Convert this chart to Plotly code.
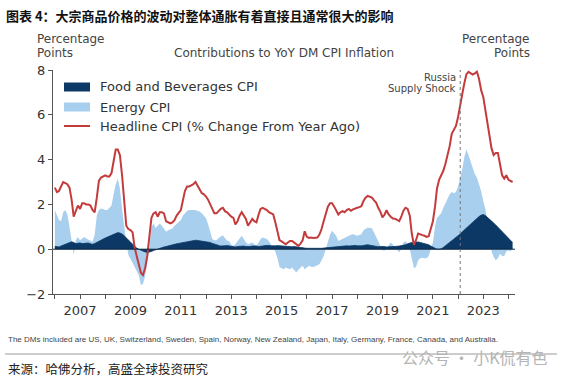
import pandas as pd
import plotly.graph_objects as go

# ---------------- data (monthly, Jan 2006 - Mar 2024) ----------------
start_month = "2006-01-01"

headline_cpi = [
    2.75, 2.55, 2.6, 2.8, 3.0, 2.95, 2.9, 2.75, 2.2, 1.45, 1.75, 1.95,   # 2006
    1.8, 2.05, 2.05, 2.0, 2.0, 1.95, 1.75, 1.65, 2.3, 3.05, 3.2, 3.25,   # 2007
    3.3, 3.25, 3.25, 3.4, 4.0, 4.45, 4.45, 4.2, 3.3, 2.1, 1.05, 0.9,     # 2008
    0.85, 0.75, 0.1, -0.3, -0.7, -1.05, -1.15, -0.85, -0.3, 0.7, 1.4, 1.6,  # 2009
    1.65, 1.45, 1.65, 1.65, 1.6, 1.25, 1.2, 1.15, 1.2, 1.3, 1.5, 1.6,    # 2010
    1.75, 2.2, 2.6, 2.8, 2.8, 2.85, 2.9, 3.0, 2.85, 2.7, 2.5, 2.45,      # 2011
    2.35, 2.2, 2.0, 1.85, 1.6, 1.6, 1.7, 1.8, 1.85, 1.7, 1.65, 1.55,     # 2012
    1.45, 1.4, 1.1, 1.25, 1.5, 1.65, 1.5, 1.35, 1.05, 1.2, 1.35, 1.25,   # 2013
    1.2, 1.55, 1.8, 1.85, 1.8, 1.75, 1.65, 1.6, 1.55, 1.2, 0.8, 0.4,     # 2014
    0.35, 0.3, 0.22, 0.3, 0.37, 0.37, 0.3, 0.22, 0.15, 0.25, 0.4, 0.8,   # 2015
    0.55, 0.5, 0.52, 0.5, 0.5, 0.52, 0.65, 0.9, 1.25, 1.6, 1.9, 2.05,    # 2016
    2.05, 1.9, 1.7, 1.55, 1.65, 1.7, 1.65, 1.75, 1.8, 1.72, 1.78, 1.8,   # 2017
    1.85, 1.88, 1.92, 2.15, 2.3, 2.38, 2.35, 2.3, 2.18, 2.08, 1.85, 1.68,  # 2018
    1.42, 1.55, 1.74, 1.55, 1.45, 1.37, 1.36, 1.3, 1.25, 1.45, 1.72, 1.85,  # 2019
    1.8, 1.5, 0.7, 0.2, 0.4, 0.7, 0.68, 0.63, 0.6, 0.55, 0.58, 0.9,      # 2020
    1.25, 1.9, 2.7, 3.1, 3.3, 3.5, 3.8, 4.2, 4.6, 5.15, 5.35, 5.5,       # 2021
    5.9, 6.5, 6.9, 7.4, 7.8, 7.92, 7.85, 7.8, 7.85, 7.92, 7.6, 7.1,      # 2022
    6.8, 6.2, 5.6, 5.0, 4.5, 4.2, 4.3, 4.3, 3.8, 3.3, 3.15, 3.3,         # 2023
    3.1, 3.05, 3.0,                                                      # 2024
]

energy_cpi = [
    1.75, 1.5, 1.3, 1.25, 1.65, 1.75, 1.55, 1.0, 0.3, -0.25, 0.4, 0.55,
    0.4, 0.5, 0.55, 0.48, 0.42, 0.38, 0.33, 0.65, 1.5, 1.75, 1.82, 1.8,
    1.75, 1.75, 1.85, 1.95, 2.45, 2.9, 3.15, 2.7, 1.8, 0.9, 0.3, -0.25,
    -0.45, -0.65, -0.8, -1.0, -1.15, -1.6, -1.55, -1.2, -0.5, 0.0, 1.0, 1.15,
    0.95, 1.05, 1.15, 1.05, 0.9, 0.78, 0.85, 0.88, 0.92, 1.05, 1.15, 1.2,
    1.3, 1.5, 1.62, 1.7, 1.75, 1.76, 1.77, 1.75, 1.7, 1.68, 1.6, 1.5,
    1.38, 1.1, 0.8, 0.45, 0.4, 0.4, 0.5, 0.55, 0.62, 0.5, 0.38, 0.35,
    0.2, 0.15, 0.22, 0.35, 0.45, 0.6, 0.45, 0.3, 0.22, 0.25, 0.3, 0.22,
    0.15, 0.3, 0.45, 0.52, 0.5, 0.45, 0.35, 0.2, 0.07, -0.1, -0.4, -0.8,
    -0.85, -0.89, -0.82, -0.86, -0.89, -0.82, -0.95, -1.04, -0.92, -0.82, -0.74, -0.89,
    -0.82, -0.74, -0.78, -0.79, -0.76, -0.72, -0.67, -0.5, -0.3, 0.0, 0.35, 0.65,
    0.82, 0.72, 0.6, 0.37, 0.42, 0.47, 0.52, 0.58, 0.62, 0.65, 0.67, 0.64,
    0.6, 0.63, 0.67, 0.85, 0.92, 0.97, 0.95, 0.94, 0.75, 0.55, 0.3, 0.1,
    -0.05, -0.07, 0.05, 0.2, 0.3, 0.2, 0.07, -0.05, -0.15, 0.0, 0.3, 0.35,
    0.22, 0.0, -0.45, -0.85, -0.8, -0.5, -0.4, -0.38, -0.4, -0.4, -0.3, 0.05,
    0.3, 1.0, 1.4, 1.5, 1.6, 1.85, 2.05, 2.3, 2.45, 2.55, 2.5, 2.55,
    2.8, 3.2, 3.55, 4.1, 4.45, 4.2, 3.9, 3.55, 3.35, 3.2, 2.9, 2.6,
    2.15, 1.8, 1.3, 0.5, -0.1, -0.35, -0.49, -0.4, -0.2, -0.3, -0.3, -0.1,
    -0.05, -0.1, 0.1,
]

food_cpi = [
    0.13, 0.12, 0.1, 0.14, 0.18, 0.22, 0.28, 0.3, 0.33, 0.3, 0.25, 0.27,
    0.28, 0.25, 0.25, 0.27, 0.28, 0.24, 0.22, 0.25, 0.3, 0.38, 0.43, 0.48,
    0.5, 0.54, 0.58, 0.62, 0.66, 0.7, 0.74, 0.72, 0.68, 0.6, 0.52, 0.42,
    0.32, 0.22, 0.12, 0.05, 0.0, -0.05, -0.08, -0.12, -0.15, -0.14, -0.1, -0.06,
    -0.02, 0.02, 0.05, 0.08, 0.1, 0.12, 0.15, 0.18, 0.2, 0.22, 0.24, 0.26,
    0.28, 0.3, 0.32, 0.34, 0.36, 0.38, 0.4, 0.4, 0.39, 0.38, 0.37, 0.36,
    0.35, 0.33, 0.3, 0.26, 0.22, 0.2, 0.17, 0.14, 0.13, 0.15, 0.16, 0.14,
    0.12, 0.1, 0.1, 0.12, 0.13, 0.15, 0.14, 0.12, 0.11, 0.12, 0.14, 0.15,
    0.14, 0.12, 0.12, 0.14, 0.16, 0.18, 0.17, 0.15, 0.14, 0.15, 0.16, 0.15,
    0.14, 0.13, 0.12, 0.1, 0.1, 0.11, 0.12, 0.1, 0.08, 0.07, 0.06, 0.05,
    0.04, 0.03, 0.03, 0.04, 0.04, 0.03, 0.03, 0.04, 0.05, 0.06, 0.08, 0.1,
    0.11, 0.12, 0.13, 0.12, 0.13, 0.14, 0.16, 0.15, 0.14, 0.16, 0.18, 0.17,
    0.15, 0.14, 0.15, 0.17, 0.19, 0.2, 0.18, 0.16, 0.14, 0.12, 0.11, 0.12,
    0.13, 0.12, 0.1, 0.1, 0.11, 0.12, 0.12, 0.13, 0.14, 0.15, 0.16, 0.2,
    0.24, 0.28, 0.3, 0.32, 0.33, 0.32, 0.3, 0.28, 0.26, 0.24, 0.2, 0.14,
    0.08, 0.03, 0.0, 0.0, 0.02, 0.08, 0.15, 0.22, 0.3, 0.38, 0.45, 0.53,
    0.6, 0.68, 0.77, 0.86, 0.95, 1.04, 1.12, 1.2, 1.3, 1.38, 1.46, 1.52,
    1.55, 1.5, 1.43, 1.35, 1.26, 1.17, 1.08, 0.98, 0.88, 0.78, 0.68, 0.58,
    0.48, 0.38, 0.3,
]

year_ticks = list(range(2006, 2025))
year_labels = [str(y) if y % 2 == 1 else "" for y in year_ticks]
y_ticks = [-2, 0, 2, 4, 6, 8]
y_labels = ["\u22122", "0", "2", "4", "6", "8"]
shock_date = "2022-02-01"

series_names = ["Food and Beverages CPI", "Energy CPI", "Headline CPI (% Change From Year Ago)"]

dates = pd.date_range(start_month, periods=len(headline_cpi), freq="MS")

# ---------------- style ----------------
FOOD = "#0b3864"
ENERGY = "#a9cfef"
RED = "#c43b3c"
TXT = "#333333"
AXC = "#555555"
FONT = "DejaVu Sans"

W, H = 573, 380
L, R, T, B = 53, 515, 70, 294


def px(x):
    return (x - L) / (R - L)


def py(y):
    return (B - y) / (B - T)


fig = go.Figure()
fig.add_trace(go.Scatter(x=dates, y=energy_cpi, mode="lines", fill="tozeroy",
                         fillcolor=ENERGY, line=dict(width=0, color=ENERGY),
                         name=series_names[1], showlegend=False))
fig.add_trace(go.Scatter(x=dates, y=food_cpi, mode="lines", fill="tozeroy",
                         fillcolor=FOOD, line=dict(width=0.8, color=FOOD),
                         name=series_names[0], showlegend=False))
fig.add_trace(go.Scatter(x=dates, y=headline_cpi, mode="lines",
                         line=dict(width=2, color=RED),
                         name=series_names[2], showlegend=False))

axis_common = dict(showline=True, linecolor=AXC, linewidth=1, ticks="outside",
                   ticklen=4, tickcolor=AXC, showgrid=False, zeroline=False,
                   tickfont=dict(family=FONT, size=13, color=TXT))

fig.update_layout(
    width=W, height=H,
    margin=dict(l=L, r=W - R, t=T, b=H - B),
    paper_bgcolor="white", plot_bgcolor="white",
    font=dict(family=FONT, color=TXT),
    xaxis=dict(type="date", range=["2005-12-05", "2024-04-05"],
               tickvals=[f"{y}-01-01" for y in year_ticks], ticktext=year_labels,
               **axis_common),
    yaxis=dict(range=[-2, 8], tickvals=y_ticks, ticktext=y_labels, **axis_common),
    yaxis2=dict(range=[-2, 8], tickvals=y_ticks, ticktext=y_labels, overlaying="y",
                side="right", **axis_common),
    showlegend=False,
)

shapes = []
# zero line
shapes.append(dict(type="line", xref="paper", yref="y", x0=0, x1=1, y0=0, y1=0,
                   line=dict(color="#0d2740", width=1)))
# Russia supply shock marker
shapes.append(dict(type="line", xref="x", yref="paper", x0=shock_date, x1=shock_date,
                   y0=0, y1=1, line=dict(color="#777777", width=1, dash="dot")))
# legend swatches
leg_rows = [87, 107, 126]
shapes.append(dict(type="rect", xref="paper", yref="paper", x0=px(64), x1=px(90),
                   y0=py(leg_rows[0] + 4.5), y1=py(leg_rows[0] - 4.5),
                   fillcolor=FOOD, line=dict(width=0)))
shapes.append(dict(type="rect", xref="paper", yref="paper", x0=px(64), x1=px(90),
                   y0=py(leg_rows[1] + 4.5), y1=py(leg_rows[1] - 4.5),
                   fillcolor=ENERGY, line=dict(width=0)))
shapes.append(dict(type="line", xref="paper", yref="paper", x0=px(64), x1=px(90),
                   y0=py(leg_rows[2]), y1=py(leg_rows[2]),
                   line=dict(color=RED, width=2)))
# source separator line
shapes.append(dict(type="line", xref="paper", yref="paper", x0=px(5), x1=px(557),
                   y0=py(354), y1=py(354), line=dict(color="#9a9a9a", width=1)))
fig.update_layout(shapes=shapes)

ann = []


def text(x, y, s, size, anchor="left", color=TXT, family=FONT, bold=False):
    if bold:
        s = f"<b>{s}</b>"
    ann.append(dict(xref="paper", yref="paper", x=px(x), y=py(y), text=s,
                    showarrow=False, xanchor=anchor, yanchor="middle",
                    font=dict(family=family, size=size, color=color)))


CJK = "Noto Sans CJK SC"
text(4, 16, "图表 4：大宗商品价格的波动对整体通胀有着直接且通常很大的影响", 13,
     color="#111111", family=CJK, bold=True)
text(35, 39, "Percentage", 12, color="#444444")
text(35, 53, "Points", 12, color="#444444")
text(532, 39, "Percentage", 12, anchor="right", color="#444444")
text(532, 53, "Points", 12, anchor="right", color="#444444")
text(284, 53, "Contributions to YoY DM CPI Inflation", 12, anchor="center", color="#444444")
for i, nm in enumerate(series_names):
    text(98, leg_rows[i], nm, 13, color=TXT)
text(458, 77, "Russia", 10, anchor="right", color="#444444")
text(458, 88, "Supply Shock", 10, anchor="right", color="#444444")
text(6, 339, "The DMs included are US, UK, Switzerland, Sweden, Spain, Norway, New Zealand, "
             "Japan, Italy, Germany, France, Canada, and Australia.", 8,
     color="#444444", family="Liberation Sans")
text(6, 368, "来源：哈佛分析，高盛全球投资研究", 12.5, color="#222222", family=CJK)
text(400, 357, "公众号 · 小K侃有色", 16, color="#b4b4b4", family=CJK)
fig.update_layout(annotations=ann)

fig.write_html("out.html", config={"displayModeBar": False},
               post_script="document.body.style.margin='0px';")
